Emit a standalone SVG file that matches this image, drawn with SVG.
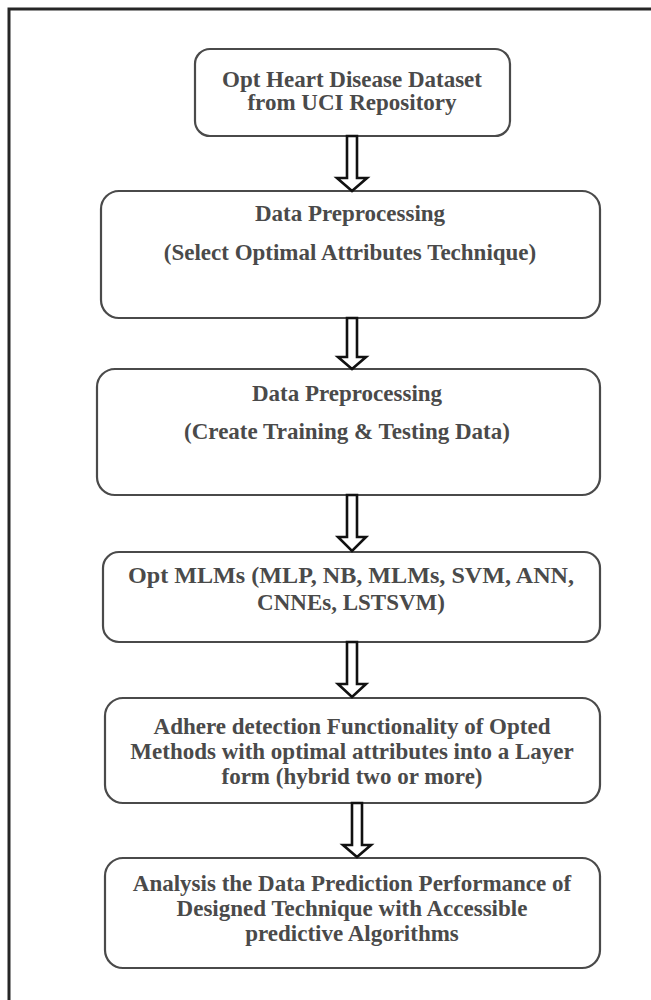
<svg xmlns="http://www.w3.org/2000/svg" width="651" height="1000" viewBox="0 0 651 1000">
<style>
.box{fill:#ffffff;stroke:#4a4a4a;stroke-width:2.2}
.t{font-family:"Liberation Serif","Times New Roman",serif;font-size:23px;font-weight:bold;fill:#4a4a4a;text-anchor:middle}
.arr{fill:#ffffff;stroke:#111111;stroke-width:2.6;stroke-linejoin:miter}
.frame{stroke:#262626;stroke-width:3;fill:none}
</style>
<rect width="651" height="1000" fill="#ffffff"/>
<g id="frame">
<path class="frame" d="M9,1000 V9 H651"/>
</g>
<g id="n1">
<rect class="box" x="195" y="49" width="315" height="87" rx="15"/>
<text class="t" x="352" y="87">Opt Heart Disease Dataset</text>
<text class="t" x="352" y="110">from UCI Repository</text>
</g>
<g id="n2">
<rect class="box" x="101" y="191" width="499" height="127" rx="18"/>
<text class="t" x="350" y="221">Data Preprocessing</text>
<text class="t" x="350" y="260">(Select Optimal Attributes Technique)</text>
</g>
<g id="n3">
<rect class="box" x="97" y="369" width="503" height="126" rx="18"/>
<text class="t" x="347" y="401">Data Preprocessing</text>
<text class="t" x="347" y="439">(Create Training &amp; Testing Data)</text>
</g>
<g id="n4">
<rect class="box" x="103" y="552" width="497" height="90" rx="16"/>
<text class="t" x="351" y="583" textLength="446" lengthAdjust="spacingAndGlyphs">Opt MLMs (MLP, NB, MLMs, SVM, ANN,</text>
<text class="t" x="351" y="610">CNNEs, LSTSVM)</text>
</g>
<g id="n5">
<rect class="box" x="105" y="698" width="495" height="105" rx="18"/>
<text class="t" x="352" y="734">Adhere detection Functionality of Opted</text>
<text class="t" x="352" y="759">Methods with optimal attributes into a Layer</text>
<text class="t" x="352" y="784">form (hybrid two or more)</text>
</g>
<g id="n6">
<rect class="box" x="105" y="858" width="495" height="110" rx="18"/>
<text class="t" x="352" y="891">Analysis the Data Prediction Performance of</text>
<text class="t" x="352" y="916">Designed Technique with Accessible</text>
<text class="t" x="352" y="941">predictive Algorithms</text>
</g>
<g id="connectors">
<path class="arr" d="M347,136 H357 V178 H367 L352,191 L337,178 H347 Z"/>
<path class="arr" d="M347,318 H357 V357 H366 L352,369 L338,357 H347 Z"/>
<path class="arr" d="M347,495 H357 V537 H366 L352,551 L338,537 H347 Z"/>
<path class="arr" d="M347,642 H357 V684 H366 L352,697 L338,684 H347 Z"/>
<path class="arr" d="M352,803 H362 V845 H371 L357,857 L343,845 H352 Z"/>
</g>
</svg>
